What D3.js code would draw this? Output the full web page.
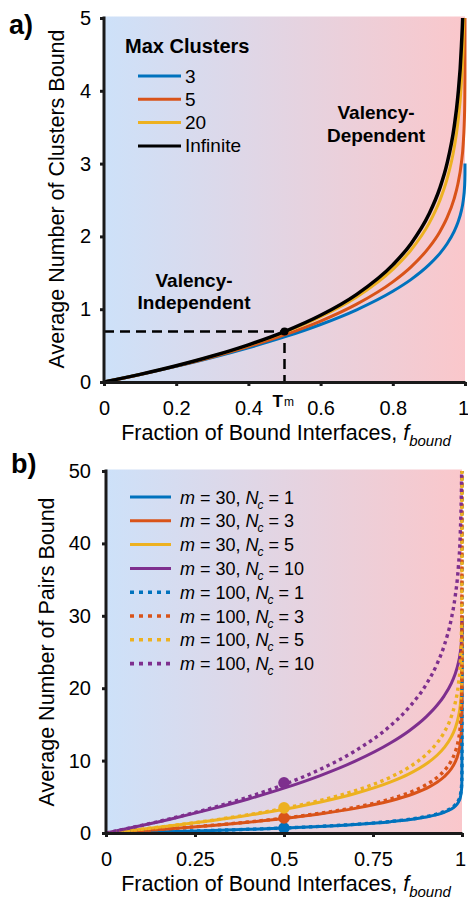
<!DOCTYPE html>
<html lang="en">
<head>
<meta charset="utf-8" />
<title>Clusters and pairs bound</title>
<script src="https://d3js.org/d3.v7.min.js"></script>
<style>
  body { margin: 0; background: #fff; }
  text { font-family: "Liberation Sans", Arial, sans-serif; fill: #000; }
</style>
</head>
<body>
<svg width="468" height="899"></svg>
<script>
// ---- data ----
const fBound = [0, 0.1, 0.2, 0.3, 0.4, 0.5, 0.6, 0.7, 0.8, 0.85, 0.9, 0.93, 0.95, 0.97, 0.98, 0.99, 0.995, 0.999, 0.9999, 1];

// panel a: average number of clusters bound
const clusterNames = ["3", "5", "20", "Infinite"];
const clusters3 = [0, 0.104, 0.215, 0.336, 0.470, 0.619, 0.790, 0.992, 1.246, 1.406, 1.608, 1.764, 1.895, 2.068, 2.186, 2.354, 2.487, 2.700, 2.861, 3];
const clusters5 = [0, 0.104, 0.218, 0.344, 0.486, 0.647, 0.837, 1.070, 1.376, 1.579, 1.845, 2.062, 2.254, 2.520, 2.713, 3.010, 3.267, 3.744, 4.208, 5];
const clusters20 = [0, 0.105, 0.222, 0.354, 0.504, 0.681, 0.896, 1.168, 1.546, 1.810, 2.175, 2.490, 2.782, 3.216, 3.553, 4.113, 4.656, 5.842, 7.381, 20];
const clustersInf = [0, 0.105, 0.223, 0.357, 0.511, 0.693, 0.916, 1.204, 1.609, 1.897, 2.303, 2.659, 2.996, 3.507, 3.912, 4.605, 5.298, 6.908, 9.210, null];
const tmPoint = [0.5, 0.693];
const xTicksA = [0, 0.2, 0.4, 0.6, 0.8, 1];
const yTicksA = [0, 1, 2, 3, 4, 5];

// panel b: average number of pairs bound
const pairM = [30, 30, 30, 30, 100, 100, 100, 100];
const pairNc = [1, 3, 5, 10, 1, 3, 5, 10];
const pairsM30Nc1 = [0, 0.105, 0.222, 0.355, 0.507, 0.685, 0.902, 1.180, 1.567, 1.838, 2.216, 2.545, 2.851, 3.310, 3.668, 4.269, 4.857, 6.170, 7.932, 30];
const pairsM30Nc3 = [0, 0.314, 0.662, 1.051, 1.494, 2.009, 2.626, 3.403, 4.460, 5.184, 6.170, 7.007, 7.766, 8.873, 9.714, 11.071, 12.339, 14.964, 18.057, 30];
const pairsM30Nc5 = [0, 0.522, 1.095, 1.731, 2.448, 3.273, 4.249, 5.455, 7.058, 8.132, 9.561, 10.743, 11.791, 13.278, 14.370, 16.075, 17.594, 20.513, 23.537, 30];
const pairsM30Nc10 = [0, 1.035, 2.150, 3.363, 4.697, 6.189, 7.896, 9.917, 12.456, 14.060, 16.075, 17.636, 18.948, 20.678, 21.857, 23.537, 24.870, 27.000, 28.607, 30];
const pairsM100Nc1 = [0, 0.105, 0.223, 0.356, 0.510, 0.691, 0.912, 1.197, 1.597, 1.879, 2.276, 2.624, 2.951, 3.446, 3.837, 4.501, 5.160, 6.675, 8.799, 100];
const pairsM100Nc3 = [0, 0.316, 0.667, 1.064, 1.521, 2.058, 2.711, 3.548, 4.714, 5.533, 6.675, 7.668, 8.595, 9.985, 11.074, 12.904, 14.696, 18.714, 24.140, 100];
const pairsM100Nc5 = [0, 0.525, 1.110, 1.768, 2.522, 3.406, 4.478, 5.842, 7.732, 9.050, 10.875, 12.451, 13.911, 16.082, 17.766, 20.567, 23.278, 29.208, 36.904, 100];
const pairsM100Nc10 = [0, 1.048, 2.207, 3.504, 4.980, 6.697, 8.755, 11.343, 14.866, 17.281, 20.567, 23.356, 25.887, 29.575, 32.380, 36.904, 41.129, 49.881, 60.189, 100];
const halfBoundPairs = [0.693, 2.079, 3.466, 6.931];
const xTicksB = [0, 0.25, 0.5, 0.75, 1];
const yTicksB = [0, 10, 20, 30, 40, 50];

const colors = ["#0072BD", "#D95319", "#EDB120", "#7E2F8E"];

const svg = d3.select("svg");

const defs = svg.append("defs");
const grad = defs.append("linearGradient").attr("id", "bg").attr("x1", 0).attr("x2", 1).attr("y1", 0).attr("y2", 0);
grad.append("stop").attr("offset", 0).attr("stop-color", "rgb(205,225,249)");
grad.append("stop").attr("offset", 1).attr("stop-color", "rgb(250,199,203)");

function panel(id, box, xTicks, yTicks, yMax) {
  const x = d3.scaleLinear().domain([0, 1]).range([box.left, box.right]);
  const y = d3.scaleLinear().domain([0, yMax]).range([box.bottom, box.top]);
  const g = svg.append("g");
  g.append("rect")
    .attr("x", box.left).attr("y", box.top - 1.5)
    .attr("width", box.right - box.left).attr("height", box.bottom - box.top + 1.5)
    .attr("fill", "url(#bg)");
  defs.append("clipPath").attr("id", "clip" + id)
    .append("rect")
    .attr("x", box.left - 4).attr("y", box.top)
    .attr("width", box.right - box.left + 8).attr("height", box.bottom - box.top + 4);
  const plot = g.append("g").attr("clip-path", "url(#clip" + id + ")");

  const xAxis = g.append("g")
    .attr("transform", "translate(0," + box.bottom + ")")
    .call(d3.axisBottom(x).tickValues(xTicks).tickFormat((d) => d).tickSize(4).tickSizeOuter(0).tickPadding(15));
  const yAxis = g.append("g")
    .attr("transform", "translate(" + box.left + ",0)")
    .call(d3.axisLeft(y).tickValues(yTicks).tickFormat((d) => d).tickSize(4).tickSizeOuter(0).tickPadding(box.ypad));
  [xAxis, yAxis].forEach((a) => {
    a.select(".domain").attr("stroke", "#1a1a1a").attr("stroke-width", 3);
    a.selectAll(".tick line").attr("stroke", "#1a1a1a").attr("stroke-width", 3);
    a.selectAll(".tick text").attr("font-size", "20px").attr("fill", "#1a1a1a")
      .style("font-family", '"Liberation Sans", Arial, sans-serif');
  });
  // keep the last x label inside the window
  xAxis.selectAll(".tick text").filter((d) => d === 1).attr("dx", -2);
  yAxis.select(".domain").attr("d", "M0," + box.bottom + "V" + (box.top - 1.5));
  return { x, y, g, plot };
}

// ---------------- panel a ----------------
const A = panel("a", { left: 104, right: 465, top: 18, bottom: 382, ypad: 9 }, xTicksA, yTicksA, 5);

// valency annotations
A.g.append("text").attr("x", 194).attr("y", 287).attr("text-anchor", "middle")
  .attr("font-size", "19px").attr("font-weight", "bold").text("Valency-");
A.g.append("text").attr("x", 194).attr("y", 309).attr("text-anchor", "middle")
  .attr("font-size", "19px").attr("font-weight", "bold").text("Independent");
A.g.append("text").attr("x", 376).attr("y", 119).attr("text-anchor", "middle")
  .attr("font-size", "19px").attr("font-weight", "bold").text("Valency-");
A.g.append("text").attr("x", 376).attr("y", 142).attr("text-anchor", "middle")
  .attr("font-size", "19px").attr("font-weight", "bold").text("Dependent");

// T_m guide lines
A.plot.append("path")
  .attr("d", "M" + A.x(0) + "," + A.y(tmPoint[1]) + "H" + A.x(tmPoint[0]) + "V" + A.y(0))
  .attr("fill", "none").attr("stroke", "#000").attr("stroke-width", 2.5)
  .attr("stroke-dasharray", "10,6");

const seriesA = [clusters3, clusters5, clusters20, clustersInf];
const colorsA = [colors[0], colors[1], colors[2], "#000"];
const lineA = d3.line()
  .defined((d) => d[1] != null)
  .x((d) => A.x(d[0])).y((d) => A.y(d[1]))
  .curve(d3.curveMonotoneX);
seriesA.forEach((s, i) => {
  A.plot.append("path")
    .datum(fBound.map((f, j) => [f, s[j]]))
    .attr("d", lineA)
    .attr("fill", "none")
    .attr("stroke", colorsA[i])
    .attr("stroke-width", i === 3 ? 3.5 : 3)
    .attr("stroke-linejoin", "round");
});
A.plot.append("circle").attr("cx", A.x(tmPoint[0])).attr("cy", A.y(tmPoint[1])).attr("r", 4).attr("fill", "#000");

// T_m tick label
const tm = A.g.append("text").attr("x", A.x(0.5) - 12).attr("y", 407).attr("font-size", "17px").attr("font-weight", "bold").attr("fill", "#1a1a1a");
tm.append("tspan").text("T");
tm.append("tspan").attr("font-size", "12px").attr("font-weight", "normal").attr("dx", 1).attr("dy", -1).text("m");

// legend a
A.g.append("text").attr("x", 125).attr("y", 53).attr("font-size", "20px").attr("font-weight", "bold").text("Max Clusters");
clusterNames.forEach((name, i) => {
  const cy = 76 + i * 23.3;
  A.g.append("line").attr("x1", 138).attr("x2", 181).attr("y1", cy).attr("y2", cy)
    .attr("stroke", colorsA[i]).attr("stroke-width", 3);
  A.g.append("text").attr("x", 185).attr("y", cy + 6.5).attr("font-size", "19px").text(name);
});

// axis labels a
A.g.append("text").attr("transform", "translate(64,199) rotate(-90)").attr("text-anchor", "middle")
  .attr("font-size", "21.5px").text("Average Number of Clusters Bound");
function xLabel(g, cx, yb) {
  const t = g.append("text").attr("x", cx).attr("y", yb).attr("text-anchor", "middle").attr("font-size", "21.5px");
  t.append("tspan").text("Fraction of Bound Interfaces, ");
  t.append("tspan").attr("font-style", "italic").text("f");
  t.append("tspan").attr("font-style", "italic").attr("font-size", "15px").attr("dy", 6).text("bound");
}
xLabel(A.g, 286, 440);

svg.append("text").attr("x", 9).attr("y", 34).attr("font-size", "27px").attr("font-weight", "bold").text("a)");

// ---------------- panel b ----------------
const B = panel("b", { left: 106, right: 462, top: 471, bottom: 833, ypad: 11 }, xTicksB, yTicksB, 50);

const seriesB = [pairsM30Nc1, pairsM30Nc3, pairsM30Nc5, pairsM30Nc10, pairsM100Nc1, pairsM100Nc3, pairsM100Nc5, pairsM100Nc10];
const lineB = d3.line().x((d) => B.x(d[0])).y((d) => B.y(d[1])).curve(d3.curveMonotoneX);
seriesB.forEach((s, i) => {
  B.plot.append("path")
    .datum(fBound.map((f, j) => [f, s[j]]))
    .attr("d", lineB)
    .attr("fill", "none")
    .attr("stroke", colors[i % 4])
    .attr("stroke-width", i < 4 ? 3 : 3.4)
    .attr("stroke-dasharray", i < 4 ? null : "3.4,3.6")
    .attr("stroke-linejoin", "round");
});
halfBoundPairs.forEach((v, i) => {
  B.plot.append("circle").attr("cx", B.x(0.5)).attr("cy", B.y(v)).attr("r", 5.8).attr("fill", colors[i]);
});

// legend b
pairM.forEach((m, i) => {
  const cy = 497 + i * 23.8;
  B.g.append("line").attr("x1", 130).attr("x2", 171).attr("y1", cy).attr("y2", cy)
    .attr("stroke", colors[i % 4]).attr("stroke-width", i < 4 ? 3 : 3.6)
    .attr("stroke-dasharray", i < 4 ? null : "4,5");
  const t = B.g.append("text").attr("x", 180).attr("y", cy + 6.5).attr("font-size", "18px");
  t.append("tspan").attr("font-style", "italic").text("m");
  t.append("tspan").text(" = " + m + ", ");
  t.append("tspan").attr("font-style", "italic").text("N");
  t.append("tspan").attr("font-style", "italic").attr("font-size", "12px").attr("dx", -1).attr("dy", 5).text("c");
  t.append("tspan").attr("dy", -5).text(" = " + pairNc[i]);
});

// axis labels b
B.g.append("text").attr("transform", "translate(54,652) rotate(-90)").attr("text-anchor", "middle")
  .attr("font-size", "21.5px").text("Average Number of Pairs Bound");
xLabel(B.g, 286, 891);

svg.append("text").attr("x", 11).attr("y", 473).attr("font-size", "27px").attr("font-weight", "bold").text("b)");
</script>
</body>
</html>
